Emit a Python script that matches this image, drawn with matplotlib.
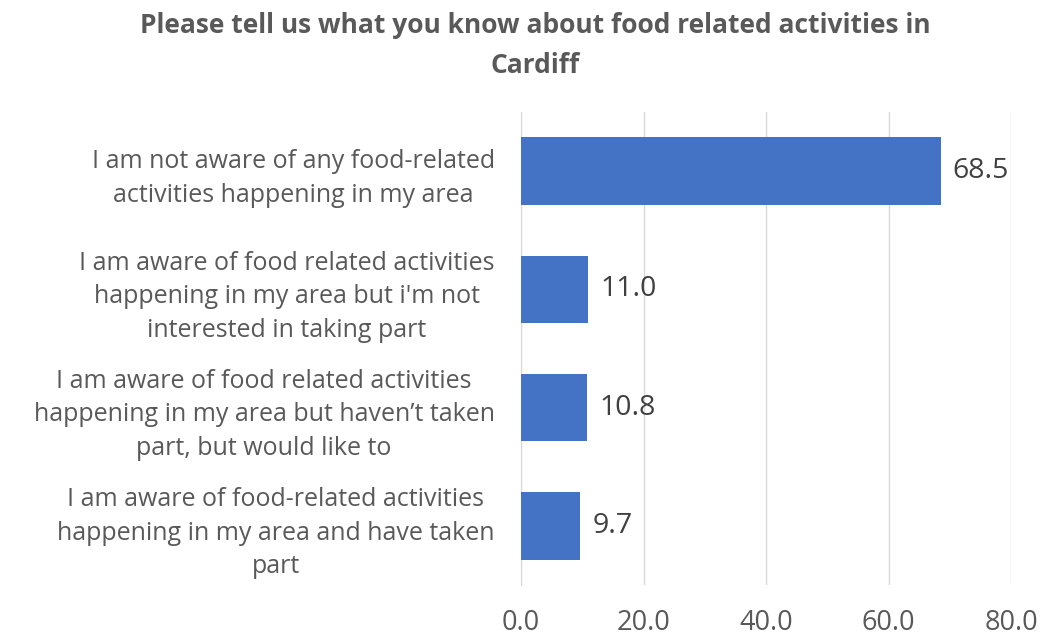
"""
Food related activities in Cardiff - horizontal bar chart
"""
import matplotlib.pyplot as plt

plt.rcParams['font.family'] = ['Open Sans', 'DejaVu Sans']

# categories (top to bottom)
labels = [
    "I am not aware of any food-related\nactivities happening in my area",
    "I am aware of food related activities\nhappening in my area but i'm not\ninterested in taking part",
    "I am aware of food related activities\nhappening in my area but haven\u2019t taken\npart, but would like to",
    "I am aware of food-related activities\nhappening in my area and have taken\npart",
]
values = [68.5, 11.0, 10.8, 9.7]
ticks = [0, 20, 40, 60, 80]

text_col = '#595959'

fig = plt.figure(figsize=(10.64, 6.40), dpi=100)
ax = fig.add_axes([0.4897, 0.086, 0.4605, 0.739])

pos = list(range(len(values)))
ax.barh(pos, values, height=0.57, color='#4472c4', zorder=3)
ax.set_ylim(len(values) - 0.5, -0.5)
ax.set_xlim(0, 80)
ax.set_xticks(ticks)
ax.set_xticklabels([f"{t:.1f}" for t in ticks], fontsize=19.5, color=text_col)
ax.tick_params(axis='x', length=0, pad=17)
ax.set_yticks(pos)
ax.set_yticklabels(labels, fontsize=18, color=text_col, multialignment='center',
                   linespacing=1.45)
ax.tick_params(axis='y', length=0, pad=19)
ax.grid(axis='x', color='#d9d9d9', linewidth=1, zorder=0)
for s in ['top', 'right', 'bottom']:
    ax.spines[s].set_visible(False)
ax.spines['left'].set_color('#d9d9d9')

for p, v in zip(pos, values):
    ax.text(v + 2.0, p, f"{v:.1f}", va='center', ha='left', fontsize=20.5, color='#404040')

fig.suptitle("Please tell us what you know about food related activities in\nCardiff",
             fontsize=19, fontweight='bold', color=text_col, y=0.982, x=0.503,
             linespacing=1.65)

fig.savefig('out.png', dpi=100)
